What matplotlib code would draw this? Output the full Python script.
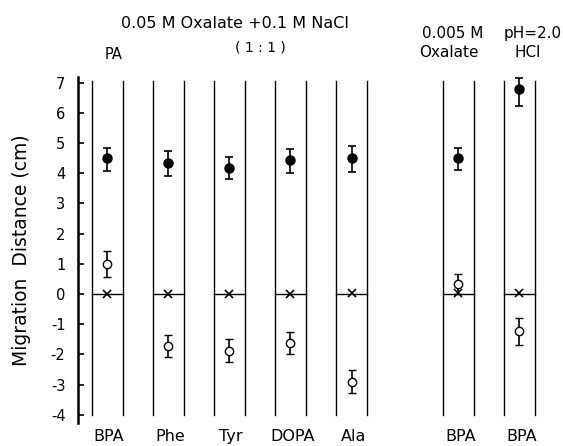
import matplotlib
matplotlib.use("Agg")
import matplotlib.pyplot as plt
import numpy as np

# Data
labels = ["BPA", "Phe", "Tyr", "DOPA", "Ala", "BPA", "BPA"]
positions = [0, 1, 2, 3, 4, 5.75, 6.75]
filled_vals = [4.5, 4.35, 4.17, 4.45, 4.5, 4.5, 6.78]
filled_err_lo = [0.42, 0.45, 0.37, 0.45, 0.45, 0.38, 0.55]
filled_err_hi = [0.35, 0.38, 0.37, 0.35, 0.42, 0.33, 0.38]
open_vals = [1.0, -1.72, -1.88, -1.63, -2.9, 0.33, -1.22]
open_err_lo = [0.43, 0.38, 0.38, 0.36, 0.37, 0.33, 0.47]
open_err_hi = [0.42, 0.38, 0.38, 0.36, 0.38, 0.33, 0.42]
cross_vals = [0, 0, 0, 0, 0.03, 0.03, 0.03]
yticks = list(range(-4, 8))

fig = plt.figure(figsize=(5.63, 4.46), dpi=100)
ax = fig.add_axes([0.1385, 0.0516, 0.833, 0.7758])
ax.set_xlim(-0.48, 7.2)
ax.set_ylim(-4.27, 7.19)

half = 0.25
for p in positions:
    ax.plot([p - half, p - half], [-4.0, 7.05], color="black", lw=1.0)
    ax.plot([p + half, p + half], [-4.0, 7.05], color="black", lw=1.0)
    ax.plot([p - half, p + half], [0, 0], color="black", lw=1.0)

ax.errorbar(positions, filled_vals, yerr=[filled_err_lo, filled_err_hi],
            fmt="o", color="black", ms=6.5, capsize=3, elinewidth=1.2, capthick=1.2)
ax.errorbar(positions, open_vals, yerr=[open_err_lo, open_err_hi],
            fmt="o", mfc="white", mec="black", color="black", ms=6, capsize=3,
            elinewidth=1.2, capthick=1.2, mew=1.0)
ax.plot(positions, cross_vals, "x", color="black", ms=5.5, mew=1.2, ls="none")

for s in ["top", "right", "bottom"]:
    ax.spines[s].set_visible(False)
ax.spines["left"].set_linewidth(1.8)
ax.set_xticks([])
ax.set_yticks(yticks)
ax.set_yticklabels([str(t) for t in yticks])
ax.tick_params(axis="y", direction="in", length=4, width=1.2, labelsize=10.5, pad=9)
ax.set_ylabel("Migration  Distance (cm)", fontsize=13.5, labelpad=14)

for p, lab in zip(positions, labels):
    ax.text(p + 0.03, -4.72, lab, ha="center", va="center", fontsize=11.5)

ax.text(2.09, 8.97, "0.05 M Oxalate +0.1 M NaCl", ha="center", va="center", fontsize=11.5)
ax.text(2.5, 8.15, "( 1 : 1 )", ha="center", va="center", fontsize=10)
ax.text(0.1, 7.95, "PA", ha="center", va="center", fontsize=10.5)
ax.text(5.65, 8.64, "0.005 M", ha="center", va="center", fontsize=11)
ax.text(5.6, 8.01, "Oxalate", ha="center", va="center", fontsize=11)
ax.text(6.96, 8.64, "pH=2.0", ha="center", va="center", fontsize=11)
ax.text(6.89, 8.01, "HCl", ha="center", va="center", fontsize=11)

fig.savefig("out.png", dpi=100)
